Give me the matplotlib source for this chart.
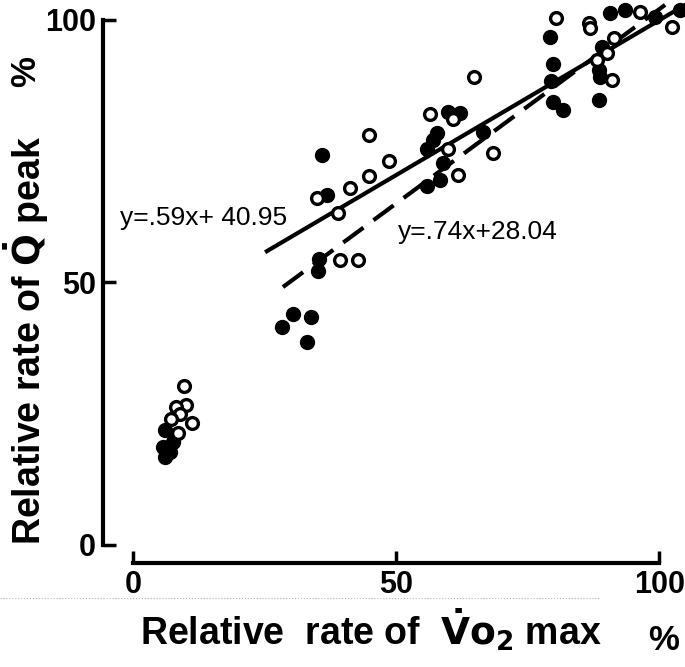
import numpy as np
import matplotlib
matplotlib.use("Agg")
import matplotlib.pyplot as plt
from matplotlib.lines import Line2D

# open circles
open_x = [9.75, 10.1, 8.1, 8.9, 7.2, 11.2, 8.6,
          34.9, 41.3, 44.9, 39.0, 39.4, 42.8, 44.9, 48.7,
          56.5, 60.9, 59.9, 61.8, 64.8, 68.4,
          80.4, 86.6, 86.9, 90.0, 91.0, 88.1, 91.5, 96.4, 102.5]
open_y = [30.3, 26.7, 26.3, 25.0, 24.0, 23.2, 21.3,
          66.0, 67.9, 70.3, 63.2, 54.3, 54.3, 78.1, 73.2,
          82.0, 81.1, 75.5, 70.5, 89.1, 74.7,
          100.3, 99.4, 98.4, 93.7, 88.6, 92.4, 96.5, 101.5, 98.7]

# filled circles
filled_x = [6.1, 5.7, 6.1, 7.0, 7.6,
            35.9, 36.9, 35.4, 35.2, 30.4, 33.8, 28.4, 33.0,
            59.9, 62.2, 57.1, 57.7, 55.8, 59.0, 58.4, 55.8, 66.6,
            79.9, 79.9, 81.8, 79.3, 79.4, 88.5, 90.7, 89.1, 88.5, 88.8,
            93.5, 99.2, 104.0]
filled_y = [21.9, 18.7, 16.8, 17.7, 19.6,
            74.3, 66.7, 54.4, 52.1, 44.0, 43.5, 41.5, 38.7,
            82.5, 82.3, 77.1, 78.4, 75.5, 72.7, 69.5, 68.3, 78.7,
            91.7, 84.4, 82.9, 96.8, 88.3, 84.8, 101.3, 94.9, 90.5, 89.2,
            101.9, 100.6, 101.9]

# regression lines: slope, intercept, start x
fit_solid = (0.59, 40.95, 25.1)
fit_dash = (0.74, 28.04, 28.5)

# # # # # # # # # # # # # # # # # # # # # # # # # # # # # # # # # # #
W, H = 685, 667
fig = plt.figure(figsize=(W / 100, H / 100), dpi=100)
ax = fig.add_axes([103 / W, 1 - 563 / H, 582 / W, 563 / H])
ax.set_xlim(-5.7, 104.9)
ax.set_ylim(-3.43, 103.8)

fnt = "Liberation Sans"

for (m, b, x0), ls in [(fit_solid, "-"), (fit_dash, (0, (6, 3)))]:
    xs = np.array([x0, 106.0])
    ax.plot(xs, m * xs + b, color="black", lw=3, linestyle=ls,
            solid_capstyle="butt", dash_capstyle="butt", zorder=2)

ax.plot(filled_x, filled_y, "o", color="black", ms=10, zorder=3)
ax.plot(open_x, open_y, "o", mfc="white", mec="black", ms=8.5, mew=2.4, zorder=3)

ax.text(-2.5, 62.3, "y=.59x+ 40.95", fontsize=19, family=fnt,
        va="center", ha="left", zorder=4)
ax.text(50.4, 59.6, "y=.74x+28.04", fontsize=19, family=fnt,
        va="center", ha="left", zorder=4)

for s in ["top", "right"]:
    ax.spines[s].set_visible(False)
ax.spines["left"].set_bounds(0, 100)
ax.spines["bottom"].set_bounds(0, 100)
ax.spines["left"].set_linewidth(3)
ax.spines["bottom"].set_linewidth(3)
ax.set_xticks([0, 50, 100])
ax.set_yticks([0, 50, 100])
ax.tick_params(direction="in", length=9, width=2.5, labelsize=22, pad=5)
for lab in ax.get_xticklabels() + ax.get_yticklabels():
    lab.set_family(fnt)
    lab.set_fontweight("bold")

fig.text(26 / W, 1 - 340 / H, r"Relative rate of $\mathbf{\dot{Q}}$ peak",
         rotation=90, fontsize=27, fontweight="bold", family=fnt,
         ha="center", va="center")
fig.text(26 / W, 1 - 72 / H, "%", rotation=90, fontsize=25,
         fontweight="bold", family=fnt, ha="center", va="center")
fig.text(140 / W, 1 - 630 / H, r"Relative  rate of  $\mathbf{\dot{V}o_2}$ max",
         fontsize=27, fontweight="bold", family=fnt, ha="left", va="center")
fig.text(664 / W, 1 - 640 / H, "%", fontsize=25, fontweight="bold",
         family=fnt, ha="center", va="center")

# faint scan lines
fig.add_artist(Line2D([0, 600 / W], [1 - 598 / H] * 2, color="gray",
                      lw=0.8, ls=":", alpha=0.6))

fig.savefig("out.png", dpi=100, facecolor="white")
